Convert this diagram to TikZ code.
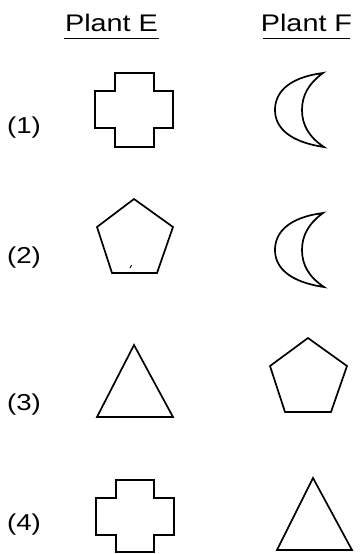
\documentclass[tikz,border=0pt]{standalone}
\usepackage{fontspec}
\setmainfont{Liberation Sans}
\begin{document}
\begin{tikzpicture}[x=1pt,y=-1pt,
  shp/.style={draw=black,line width=1.7pt,line join=miter},
  head/.style={inner sep=0pt,anchor=base,font=\fontsize{24}{24}\selectfont,xscale=1.2},
  lab/.style={inner sep=0pt,font=\fontsize{23}{23}\selectfont,xscale=1.2},
  uline/.style={draw=black,line width=1pt}]
\useasboundingbox (0,0) rectangle (361,554);
% headers
\node[head] (hE) at (111.5,31) {Plant E};
\node[head] (hF) at (306.5,31) {Plant F};
\draw[uline] (64,38.5) -- (159,38.5);
\draw[uline] (263,38.5) -- (350,38.5);
% row labels
\node[lab] (l1) at (24,128) {(1)};
\node[lab] (l2) at (24,258) {(2)};
\node[lab] (l3) at (24,405) {(3)};
\node[lab] (l4) at (24,525) {(4)};
% row 1
\draw[shp] (115,73) -- (154,73) -- (154,91) -- (173,91) -- (173,128) -- (154,128) -- (154,147) -- (115,147) -- (115,128) -- (95,128) -- (95,91) -- (115,91) -- cycle;
\draw[shp] (323,73) .. controls (285,78) and (275,95) .. (275,110) .. controls (275,128) and (290,142) .. (324,147)
           .. controls (309,137) and (302,125) .. (302,110) .. controls (302,96) and (308,84) .. (323,73) -- (318,74);
% row 2
\draw[shp] (134,199) -- (173,227) -- (157,273) -- (112,273) -- (97,227) -- cycle;
\draw[line width=0.9pt] (130,268) -- (131.5,265);
\draw[shp] (323,213) .. controls (285,218) and (275,235) .. (275,250) .. controls (275,268) and (290,282) .. (324,287)
           .. controls (309,277) and (302,265) .. (302,250) .. controls (302,236) and (308,224) .. (323,213) -- (318,214);
% row 3
\draw[shp] (134,345) -- (173,417) -- (97,417) -- cycle;
\draw[shp] (308,338) -- (347,366) -- (331,412) -- (285,412) -- (270,366) -- cycle;
% row 4
\draw[shp] (116,480) -- (154,480) -- (154,498) -- (174,498) -- (174,535) -- (154,535) -- (154,552) -- (116,552) -- (116,535) -- (96,535) -- (96,498) -- (116,498) -- cycle;
\draw[shp] (313,478) -- (352,550) -- (277,550) -- cycle;
\end{tikzpicture}
\end{document}
